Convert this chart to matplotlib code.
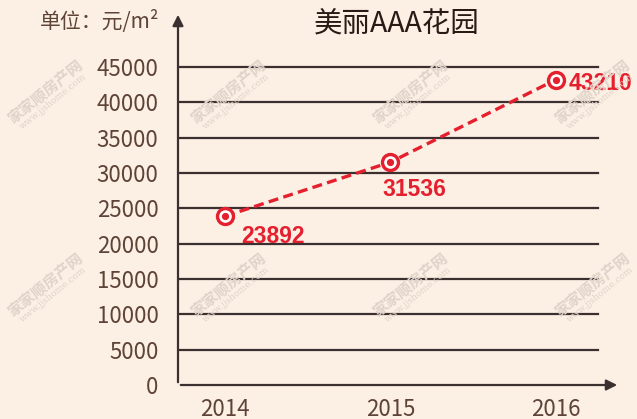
import matplotlib.pyplot as plt

plt.rcParams['font.family'] = ['Noto Sans CJK SC', 'DejaVu Sans']

# 数据
years = ['2014', '2015', '2016']
prices = [23892, 31536, 43210]
yticks = [0, 5000, 10000, 15000, 20000, 25000, 30000, 35000, 40000, 45000]

bg = '#fcefe4'
brown = '#5e4337'
red = '#e5202e'

fig = plt.figure(figsize=(6.37, 4.19), dpi=100, facecolor=bg)
ax = fig.add_axes([178 / 637, 34 / 419, 442 / 637, 373 / 419])
ax.set_facecolor('none')

x = list(range(len(years)))
ax.set_xlim(-0.284, 2.387)
ax.set_ylim(0, 52783)

# 网格线
for v in yticks[1:]:
    ax.axhline(v, xmin=0, xmax=0.95, color='#3a3030', lw=1.6, zorder=1)

# 坐标轴箭头
for s in ax.spines.values():
    s.set_visible(False)
ax.annotate('', xy=(1, 0), xytext=(0, 0), xycoords='axes fraction',
            arrowprops=dict(arrowstyle='-|>', color='#3a3030', lw=1.6, mutation_scale=16))
ax.annotate('', xy=(0, 1), xytext=(0, 0), xycoords='axes fraction',
            arrowprops=dict(arrowstyle='-|>', color='#3a3030', lw=1.6, mutation_scale=16))

# 折线
ax.plot(x, prices, color=red, lw=2.4, ls=(0, (3, 1.6)), zorder=3)
ax.plot(x, prices, 'o', ms=11.5, mfc='white', mec=red, mew=2.4, zorder=4)
ax.plot(x, prices, 'o', ms=4.2, color=red, zorder=5)

offsets = [(12, -15), (-6, -20), (9, -3)]
for xi, p, (dx, dy) in zip(x, prices, offsets):
    ax.annotate(str(p), (xi, p), xytext=(dx, dy), textcoords='offset points',
                ha='left', va='center', color=red, fontsize=16.5, fontweight='bold',
                family=['Liberation Sans', 'DejaVu Sans'], zorder=6)

ax.set_yticks(yticks)
ax.set_yticklabels([str(v) for v in yticks])
ax.set_xticks(x)
ax.set_xticklabels(years)
ax.tick_params(length=0, labelsize=16, labelcolor=brown)
ax.tick_params(axis='y', pad=14)
ax.tick_params(axis='x', pad=9)

fig.text(397 / 637, 1 - 24 / 419, '美丽AAA花园', ha='center', va='center',
         fontsize=20.5, color='#2a1a15')
fig.text(40 / 637, 1 - 22 / 419, '单位：元/m²', ha='left', va='center',
         fontsize=15, color=brown)

# 水印
for wy in [92, 285]:
    for wx in [45, 228, 410, 592]:
        fig.text(wx / 637, 1 - wy / 419, '家家顺房产网', ha='center',
                 va='center', rotation=39, fontsize=11, color='#e0d4ca',
                 fontweight='bold', zorder=0)
        fig.text((wx + 8) / 637, 1 - (wy + 10) / 419, 'www.jjshome.com', ha='center',
                 va='center', rotation=39, fontsize=6.5, color='#e0d4ca',
                 family='DejaVu Serif', zorder=0)

fig.savefig('out.png', dpi=100, facecolor=bg)
